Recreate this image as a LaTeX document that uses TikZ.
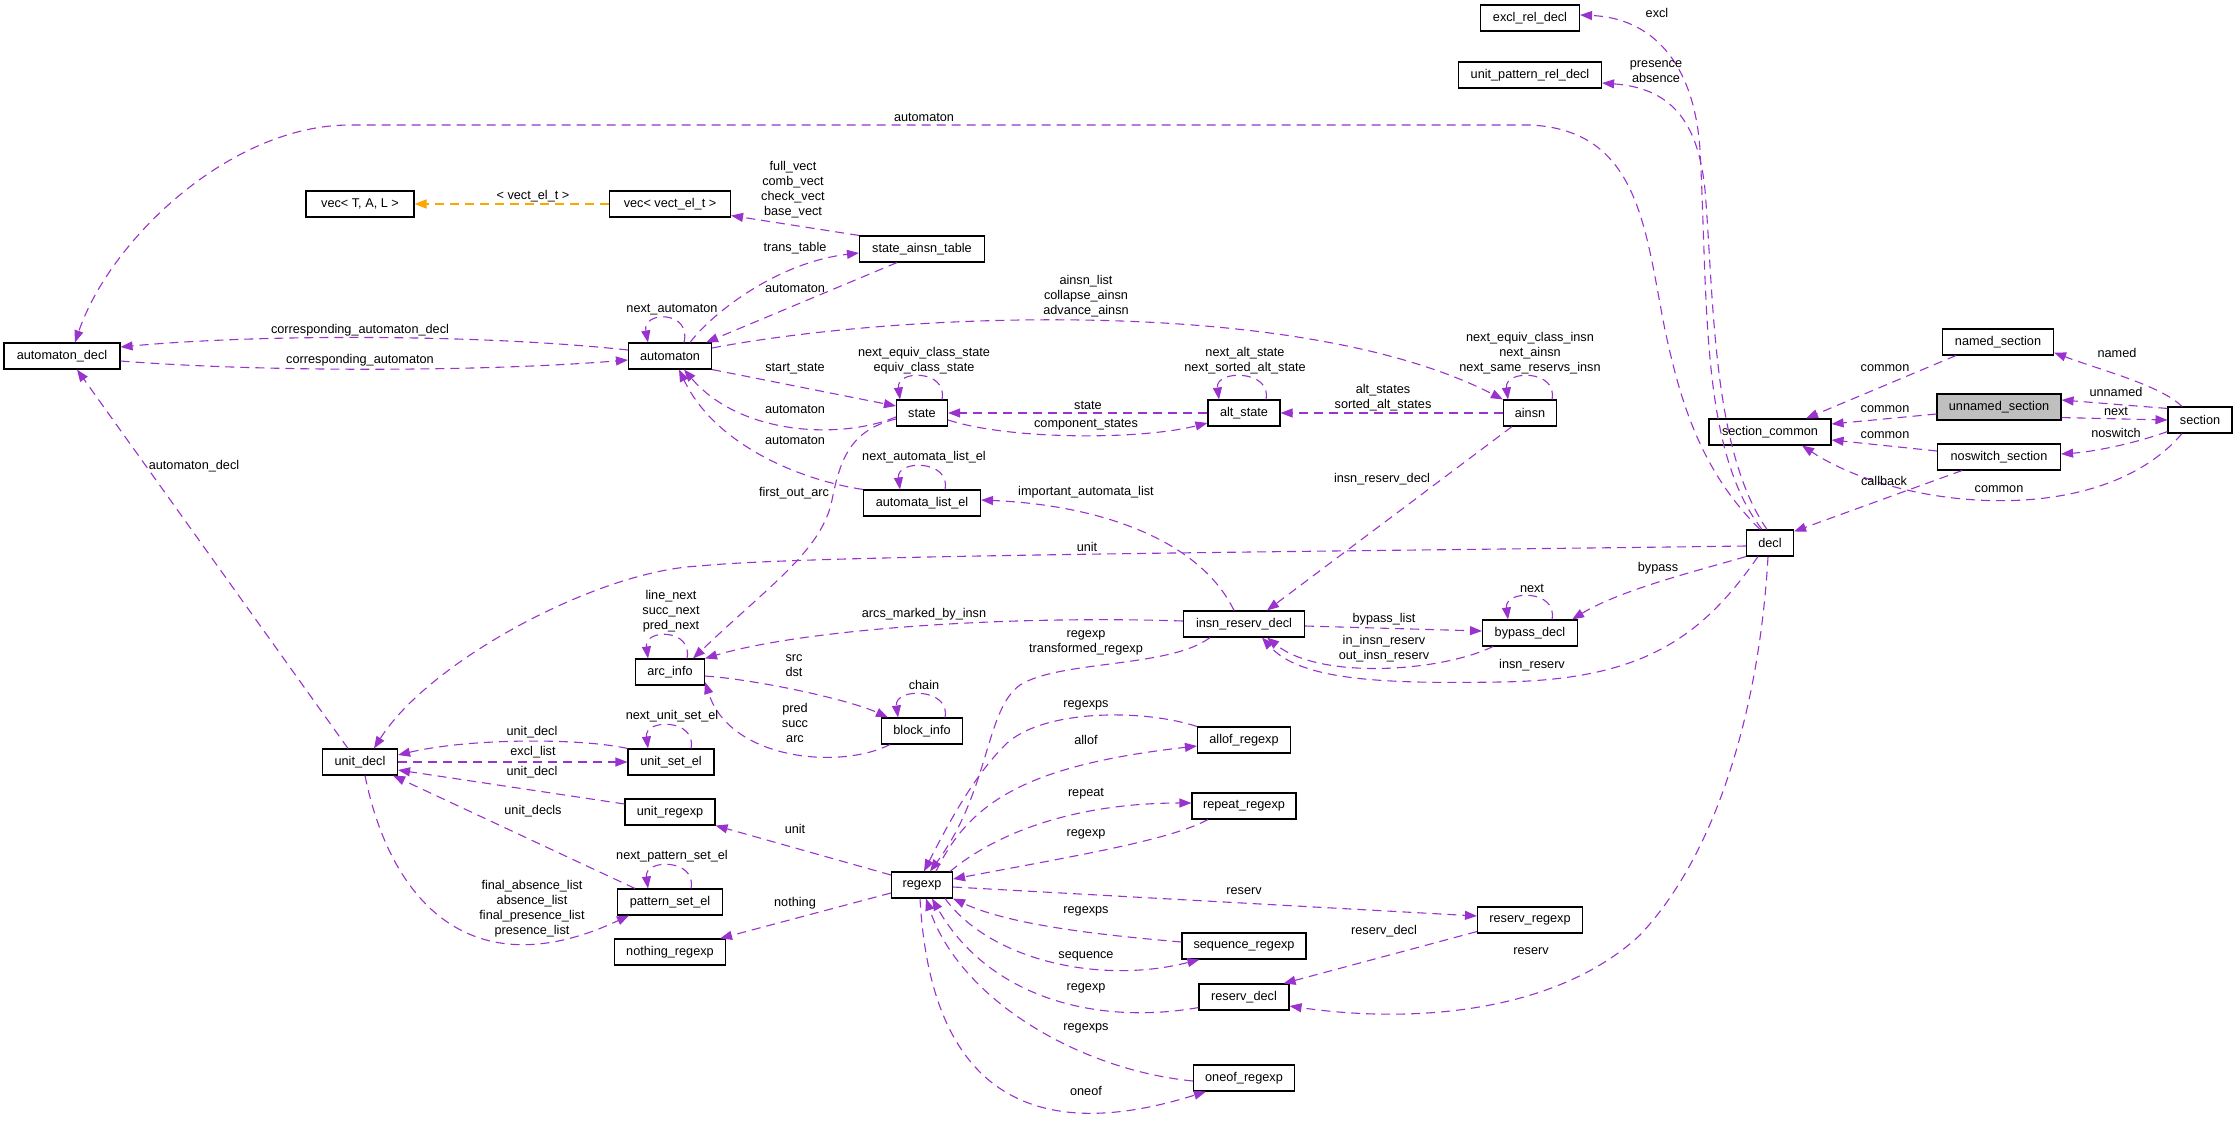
\documentclass[tikz,border=0pt]{standalone}
\usepackage{fontspec}
\setmainfont{Liberation Sans}
\usetikzlibrary{arrows.meta,positioning}
\definecolor{relcolor}{HTML}{9A32CD}
\definecolor{tplcolor}{HTML}{FFA500}
\definecolor{curfill}{HTML}{BFBFBF}
\tikzset{classbox/.style={draw=black,line width=1.1pt,fill=white,minimum height=26pt,inner sep=0pt,font=\fontsize{12.7}{15}\selectfont}}
\tikzset{curbox/.style={classbox,fill=curfill}}
\tikzset{edgelbl/.style={inner sep=0pt,align=center,font=\fontsize{12.7}{15}\selectfont}}
\tikzset{relarrow/.style={draw=relcolor,line width=1.1pt,dash pattern=on 9pt off 6pt,-{Triangle[length=12pt,width=9pt]}}}
\tikzset{tplarrow/.style={relarrow,draw=tplcolor,line width=1.6pt}}

\begin{document}
\begin{tikzpicture}[x=1pt,y=-1pt]
\useasboundingbox (0,0) rectangle (2237,1127);
% classes
\node [classbox,minimum width=116pt] at (62,356) (autdecl) {automaton\_decl};
\node [classbox,minimum width=108pt] at (360,204) (vectal) {vec< T, A, L >};
\node [classbox,minimum width=121pt] at (670,204) (vecvect) {vec< vect\_el\_t >};
\node [classbox,minimum width=125pt] at (922,249) (satable) {state\_ainsn\_table};
\node [classbox,minimum width=83pt] at (670,356) (autom) {automaton};
\node [classbox,minimum width=51pt] at (922,413) (state) {state};
\node [classbox,minimum width=72pt] at (1244,413) (altst) {alt\_state};
\node [classbox,minimum width=53pt] at (1530,413) (ainsn) {ainsn};
\node [classbox,minimum width=117pt] at (922,503) (alist) {automata\_list\_el};
\node [classbox,minimum width=99pt] at (1530,18) (excl) {excl\_rel\_decl};
\node [classbox,minimum width=143pt] at (1530,75) (uprd) {unit\_pattern\_rel\_decl};
\node [classbox,minimum width=111pt] at (1998,342) (named) {named\_section};
\node [curbox,minimum width=124pt] at (1999,407) (unnamed) {unnamed\_section};
\node [classbox,minimum width=123pt] at (1999,457) (noswitch) {noswitch\_section};
\node [classbox,minimum width=64pt] at (2200,420) (section) {section};
\node [classbox,minimum width=122pt] at (1770,432) (scommon) {section\_common};
\node [classbox,minimum width=47pt] at (1770,543) (decl) {decl};
\node [classbox,minimum width=121pt] at (1244,624) (irdecl) {insn\_reserv\_decl};
\node [classbox,minimum width=95pt] at (1530,633) (bypass) {bypass\_decl};
\node [classbox,minimum width=69pt] at (670,672) (arcinfo) {arc\_info};
\node [classbox,minimum width=81pt] at (922,731) (block) {block\_info};
\node [classbox,minimum width=75pt] at (360,762) (unitdecl) {unit\_decl};
\node [classbox,minimum width=86pt] at (671,762) (unitset) {unit\_set\_el};
\node [classbox,minimum width=90pt] at (670,812) (unitre) {unit\_regexp};
\node [classbox,minimum width=105pt] at (670,902) (patset) {pattern\_set\_el};
\node [classbox,minimum width=111pt] at (670,952) (nothing) {nothing\_regexp};
\node [classbox,minimum width=61pt] at (922,885) (regexp) {regexp};
\node [classbox,minimum width=93pt] at (1244,740) (allof) {allof\_regexp};
\node [classbox,minimum width=104pt] at (1244,806) (repeat) {repeat\_regexp};
\node [classbox,minimum width=124pt] at (1244,946) (sequence) {sequence\_regexp};
\node [classbox,minimum width=90pt] at (1244,997) (reservdecl) {reserv\_decl};
\node [classbox,minimum width=101pt] at (1244,1078) (oneof) {oneof\_regexp};
\node [classbox,minimum width=105pt] at (1530,920) (reservre) {reserv\_regexp};

% automaton_decl
\draw [relarrow] ([yshift=6pt]autom.west) .. controls (480,334) and (260,334) .. ([yshift=9pt]autdecl.east);
\draw [relarrow] ([yshift=-5pt]autdecl.east) .. controls (260,372) and (480,372) .. ([yshift=-4pt]autom.west);
\draw [relarrow] ([xshift=-10pt]decl.north) .. controls (1700,470) and (1680,400) .. (1665,330)
	.. controls (1645,230) and (1640,130) .. (1530,125) -- (350,125) .. controls (230,125) and (110,240) .. ([xshift=13pt]autdecl.north);
\draw [relarrow] ([xshift=-12pt]unitdecl.north) -- ([xshift=15pt]autdecl.south);

% vec
\draw [tplarrow] (vecvect) -- (vectal);
\draw [relarrow] (satable.north west) -- ([yshift=2pt]vecvect.south east);

% automaton
\draw [relarrow] ([xshift=20pt]autom.north) .. controls (715,310) and (780,262) .. ([yshift=-4pt]satable.west);
\draw [relarrow] ([xshift=-25pt]satable.south) -- ([xshift=-6pt]autom.north east);
\draw [relarrow] ([xshift=14pt]autom.north) .. controls +(8,-32) and +(-6,-32) .. ([xshift=-22pt]autom.north);
\draw [relarrow] ([yshift=8pt]autom.east) .. controls (900,312) and (1300,295) .. (ainsn.north west);
\draw [relarrow] (autom.south east) -- ([yshift=7pt]state.west);
\draw [relarrow] ([yshift=-4pt]state.west) .. controls (840,440) and (740,435) .. ([xshift=14pt]autom.south);
\draw [relarrow] (alist.north west) .. controls (800,480) and (715,445) .. ([xshift=9pt]autom.south);

% states
\draw [relarrow] ([xshift=20pt]state.north) .. controls +(6,-30) and +(-4,-30) .. ([xshift=-22pt]state.north);
\draw [relarrow] (altst) -- (state);
\draw [relarrow] ([yshift=-7pt]state.east) .. controls (1010,440) and (1140,440) .. ([yshift=-10pt]altst.west);
\draw [relarrow] ([xshift=22pt]altst.north) .. controls +(6,-30) and +(-4,-30) .. ([xshift=-25pt]altst.north);
\draw [relarrow] (ainsn) -- (altst);
\draw [relarrow] ([xshift=22pt]ainsn.north) .. controls +(6,-30) and +(-4,-30) .. ([xshift=-22pt]ainsn.north);
\draw [relarrow] ([xshift=23pt]alist.north) .. controls +(6,-30) and +(-4,-30) .. ([xshift=-22pt]alist.north);
\draw [relarrow] ([xshift=-10pt]irdecl.north) .. controls (1200,540) and (1100,505) .. ([yshift=3pt]alist.east);
\draw [relarrow] ([xshift=-18pt]ainsn.south) -- ([xshift=23pt]irdecl.north);
\draw [relarrow] ([yshift=-3pt]decl.west) .. controls (1300,552) and (800,555) .. (700,566)
	.. controls (600,570) and (430,660) .. ([xshift=14pt]unitdecl.north);

% arc_info
\draw [relarrow] ([yshift=-6pt]state.west) .. controls (850,430) and (840,460) .. (832,500)
	.. controls (822,550) and (770,585) .. ([xshift=23pt]arcinfo.north);
\draw [relarrow] ([yshift=3pt]irdecl.west) .. controls (1000,615) and (800,630) .. (arcinfo.north east);
\draw [relarrow] ([xshift=17pt]arcinfo.north) .. controls +(6,-30) and +(-4,-30) .. ([xshift=-22pt]arcinfo.north);
\draw [relarrow] ([yshift=-4pt]arcinfo.east) .. controls (760,680) and (850,700) .. ([xshift=7pt]block.north west);
\draw [relarrow] ([xshift=9pt]block.south west) .. controls (840,770) and (730,760) .. ([yshift=-10pt]arcinfo.east);
\draw [relarrow] ([xshift=23pt]block.north) .. controls +(6,-30) and +(-4,-30) .. ([xshift=-24pt]block.north);

% unit_decl
\draw [relarrow] (unitset.north west) .. controls (580,738) and (470,738) .. ([yshift=7pt]unitdecl.east);
\draw [relarrow] (unitdecl) -- (unitset);
\draw [relarrow] ([xshift=20pt]unitset.north) .. controls +(6,-30) and +(-4,-30) .. ([xshift=-23pt]unitset.north);
\draw [relarrow] ([yshift=8pt]unitre.west) -- ([yshift=-8pt]unitdecl.east);
\draw [relarrow] ([xshift=-35pt]patset.north) -- ([xshift=-5pt]unitdecl.south east);
\draw [relarrow] ([xshift=5pt]unitdecl.south) .. controls (390,900) and (470,990) .. ([xshift=12pt]patset.south west);
\draw [relarrow] ([xshift=21pt]patset.north) .. controls +(6,-30) and +(-4,-30) .. ([xshift=-22pt]patset.north);

% regexp
\draw [relarrow] ([yshift=10pt]regexp.west) -- (unitre.south east);
\draw [relarrow] ([yshift=-8pt]regexp.west) -- ([xshift=-6pt]nothing.north east);
\draw [relarrow] ([xshift=-34pt]irdecl.south) .. controls (1170,668) and (1060,660) .. (1020,685)
	.. controls (985,710) and (990,790) .. ([xshift=8pt]regexp.north);
\draw [relarrow] (allof.north west) .. controls (1140,708) and (1040,710) .. (1005,745)
	.. controls (975,775) and (950,820) .. ([xshift=2pt]regexp.north);
\draw [relarrow] ([xshift=14pt]regexp.north) .. controls (970,800) and (1030,765) .. ([yshift=-6pt]allof.west);
\draw [relarrow] ([xshift=-3pt]regexp.north east) .. controls (1000,830) and (1080,803) .. ([yshift=3pt]repeat.west);
\draw [relarrow] ([xshift=-36pt]repeat.south) .. controls (1170,840) and (1080,855) .. ([yshift=6pt]regexp.east);
\draw [relarrow] ([yshift=-2pt]regexp.east) -- ([yshift=4pt]reservre.west);
\draw [relarrow] ([yshift=4pt]sequence.west) .. controls (1100,935) and (1010,925) .. (regexp.south east);
\draw [relarrow] ([xshift=-8pt]regexp.south east) .. controls (990,960) and (1100,985) .. ([xshift=18pt]sequence.south west);
\draw [relarrow] ([yshift=3pt]reservdecl.south west) .. controls (1100,1025) and (990,1000) .. ([xshift=10pt]regexp.south);
\draw [relarrow] ([yshift=-3pt]oneof.west) .. controls (1080,1070) and (960,1000) .. ([xshift=4pt]regexp.south);
\draw [relarrow] ([xshift=-2pt]regexp.south) .. controls (930,1080) and (1020,1150) .. ([xshift=13pt]oneof.south west);
\draw [relarrow] ([yshift=2pt]reservre.south west) -- ([xshift=-6pt]reservdecl.north east);

% decl
\draw [relarrow] ([xshift=-2pt]decl.south) .. controls (1760,700) and (1720,850) .. (1640,935)
	.. controls (1560,1010) and (1420,1025) .. ([yshift=-9pt]reservdecl.east);
\draw [relarrow] ([yshift=-2pt]irdecl.east) -- ([yshift=2pt]bypass.west);
\draw [relarrow] ([xshift=11pt]bypass.south west) .. controls (1440,672) and (1320,680) .. ([xshift=23pt]irdecl.south);
\draw [relarrow] ([xshift=-12pt]decl.south) .. controls (1700,640) and (1640,680) .. (1500,682)
	.. controls (1380,684) and (1300,680) .. ([xshift=18pt]irdecl.south);
\draw [relarrow] ([xshift=22pt]bypass.north) .. controls +(6,-30) and +(-4,-30) .. ([xshift=-22pt]bypass.north);
\draw [relarrow] (decl.south west) .. controls (1700,570) and (1620,590) .. ([xshift=-6pt]bypass.north east);
\draw [relarrow] ([xshift=-8pt]decl.north) .. controls (1700,450) and (1708,300) .. (1700,150)
	.. controls (1694,60) and (1650,18) .. ([yshift=3pt]excl.east);
\draw [relarrow] ([xshift=-3pt]decl.north) .. controls (1712,450) and (1714,300) .. (1705,190)
	.. controls (1698,120) and (1670,88) .. ([yshift=-8pt]uprd.east);

% sections
\draw [relarrow] ([xshift=-37pt]noswitch.south) -- ([yshift=-2pt]decl.north east);
\draw [relarrow] ([xshift=14pt]named.south west) -- ([xshift=36pt]scommon.north);
\draw [relarrow] ([yshift=-7pt]unnamed.west) -- ([yshift=8pt]scommon.east);
\draw [relarrow] ([yshift=6pt]noswitch.west) -- ([yshift=-8pt]scommon.east);
\draw [relarrow] ([xshift=-18pt]section.south) .. controls (2100,530) and (1900,510) .. ([xshift=32pt]scommon.south);
\draw [relarrow] ([xshift=-18pt]section.north) .. controls (2160,385) and (2100,370) .. ([yshift=3pt]named.south east);
\draw [relarrow] ([yshift=-2pt]section.north west) -- ([yshift=7pt]unnamed.east);
\draw [relarrow] ([yshift=3pt]unnamed.south east) -- (section.west);
\draw [relarrow] ([yshift=2pt]section.south west) .. controls (2130,445) and (2090,452) .. ([yshift=3pt]noswitch.east);

% labels
\node [edgelbl] at (924,117) (l1) {automaton};
\node [edgelbl] at (1657,13) (l2) {excl};
\node [edgelbl] at (1656,71.5) (l3) {presence\\absence};
\node [edgelbl] at (793,189.5) (l4) {full\_vect\\comb\_vect\\check\_vect\\base\_vect};
\node [edgelbl] at (533,196) (l5) {< vect\_el\_t >};
\node [edgelbl] at (795,248) (l6) {trans\_table};
\node [edgelbl] at (795,288) (l7) {automaton};
\node [edgelbl] at (672,310) (l8) {next\_automaton};
\node [edgelbl] at (360,330) (l9) {corresponding\_automaton\_decl};
\node [edgelbl] at (360,360) (l10) {corresponding\_automaton};
\node [edgelbl] at (1086,296) (l11) {ainsn\_list\\collapse\_ainsn\\advance\_ainsn};
\node [edgelbl] at (924,360.5) (l12) {next\_equiv\_class\_state\\equiv\_class\_state};
\node [edgelbl] at (795,369) (l13) {start\_state};
\node [edgelbl] at (795,409) (l14) {automaton};
\node [edgelbl] at (795,440) (l15) {automaton};
\node [edgelbl] at (1245,360.5) (l16) {next\_alt\_state\\next\_sorted\_alt\_state};
\node [edgelbl] at (1530,353) (l17) {next\_equiv\_class\_insn\\next\_ainsn\\next\_same\_reservs\_insn};
\node [edgelbl] at (1088,405) (l18) {state};
\node [edgelbl] at (1086,425) (l19) {component\_states};
\node [edgelbl] at (1383,398) (l20) {alt\_states\\sorted\_alt\_states};
\node [edgelbl] at (924,457) (l21) {next\_automata\_list\_el};
\node [edgelbl] at (794,493) (l22) {first\_out\_arc};
\node [edgelbl] at (1086,492) (l23) {important\_automata\_list};
\node [edgelbl] at (1382,479) (l24) {insn\_reserv\_decl};
\node [edgelbl] at (194,466) (l25) {automaton\_decl};
\node [edgelbl] at (1087,547) (l26) {unit};
\node [edgelbl] at (2117,353) (l27) {named};
\node [edgelbl] at (2116,392) (l28) {unnamed};
\node [edgelbl] at (2116,411) (l29) {next};
\node [edgelbl] at (2116,433) (l30) {noswitch};
\node [edgelbl] at (1885,368) (l31) {common};
\node [edgelbl] at (1885,409) (l32) {common};
\node [edgelbl] at (1885,435) (l33) {common};
\node [edgelbl] at (1884,481) (l34) {callback};
\node [edgelbl] at (1999,489) (l35) {common};
\node [edgelbl] at (1658,568) (l36) {bypass};
\node [edgelbl] at (1532,588) (l37) {next};
\node [edgelbl] at (1384,619) (l38) {bypass\_list};
\node [edgelbl] at (1384,648.5) (l39) {in\_insn\_reserv\\out\_insn\_reserv};
\node [edgelbl] at (1532,665) (l40) {insn\_reserv};
\node [edgelbl] at (671,611) (l41) {line\_next\\succ\_next\\pred\_next};
\node [edgelbl] at (924,614) (l42) {arcs\_marked\_by\_insn};
\node [edgelbl] at (794,665.5) (l43) {src\\dst};
\node [edgelbl] at (924,685) (l44) {chain};
\node [edgelbl] at (795,723) (l45) {pred\\succ\\arc};
\node [edgelbl] at (672,716) (l46) {next\_unit\_set\_el};
\node [edgelbl] at (532,732) (l47) {unit\_decl};
\node [edgelbl] at (533,752) (l48) {excl\_list};
\node [edgelbl] at (532,772) (l49) {unit\_decl};
\node [edgelbl] at (533,811) (l50) {unit\_decls};
\node [edgelbl] at (672,856) (l51) {next\_pattern\_set\_el};
\node [edgelbl] at (532,909) (l52) {final\_absence\_list\\absence\_list\\final\_presence\_list\\presence\_list};
\node [edgelbl] at (1086,643) (l53) {regexp\\transformed\_regexp};
\node [edgelbl] at (1086,705) (l54) {regexps};
\node [edgelbl] at (1086,740) (l55) {allof};
\node [edgelbl] at (1086,794) (l56) {repeat};
\node [edgelbl] at (1086,834) (l57) {regexp};
\node [edgelbl] at (795,829) (l58) {unit};
\node [edgelbl] at (795,903) (l59) {nothing};
\node [edgelbl] at (1244,891) (l60) {reserv};
\node [edgelbl] at (1086,911) (l61) {regexps};
\node [edgelbl] at (1086,956) (l62) {sequence};
\node [edgelbl] at (1086,988) (l63) {regexp};
\node [edgelbl] at (1086,1028) (l64) {regexps};
\node [edgelbl] at (1086,1091) (l65) {oneof};
\node [edgelbl] at (1384,931) (l66) {reserv\_decl};
\node [edgelbl] at (1531,951) (l67) {reserv};
\end{tikzpicture}
\end{document}
